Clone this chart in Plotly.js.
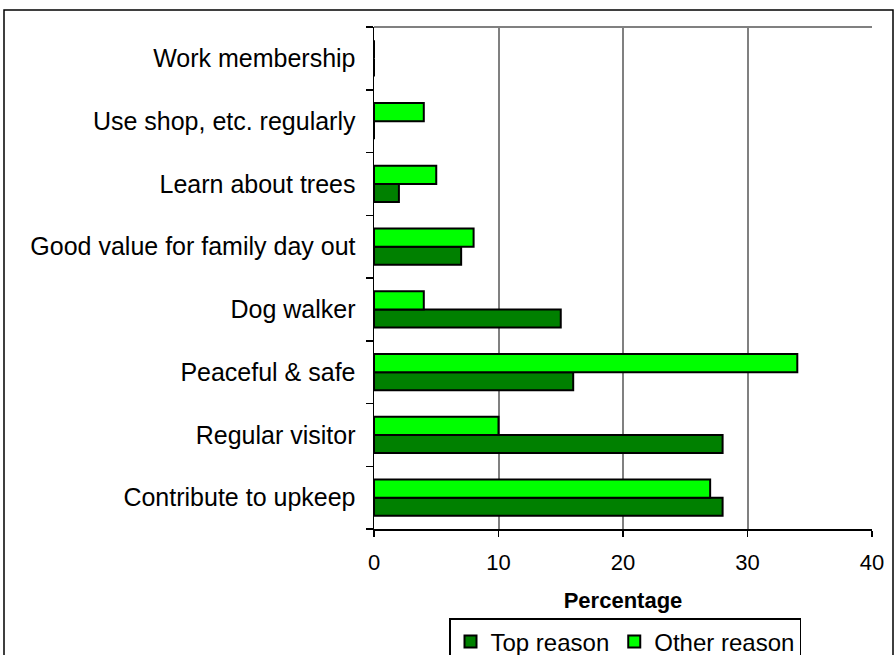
<!DOCTYPE html>
<html>
<head>
<meta charset="utf-8">
<script src="https://cdn.plot.ly/plotly-3.0.1.min.js"></script>
<style>
html,body{margin:0;padding:0;background:#fff;overflow:hidden;width:895px;height:655px;}
#chart{width:895px;height:680px;}
</style>
</head>
<body>
<div id="chart"></div>
<script>
const categories = ["Contribute to upkeep", "Regular visitor", "Peaceful & safe", "Dog walker",
  "Good value for family day out", "Learn about trees", "Use shop, etc. regularly", "Work membership"];
const topReason = [28, 28, 16, 15, 7, 2, 0, 0];
const otherReason = [27, 10, 34, 4, 8, 5, 4, 0];
const seriesNames = ["Top reason", "Other reason"];
const xTicks = [0, 10, 20, 30, 40];

const FONT = "Liberation Sans, Arial, sans-serif";

const traces = [
  {type: "bar", orientation: "h", name: seriesNames[0], y: categories, x: topReason,
   marker: {color: "#008000", line: {color: "#000", width: 2}}},
  {type: "bar", orientation: "h", name: seriesNames[1], y: categories, x: otherReason,
   marker: {color: "#00ff00", line: {color: "#000", width: 2}}}
];

const FULLH = 680;
const L = 374, R = 23, T = 27, B = FULLH - 529;
const W = 895 - L - R, H = FULLH - T - B;
const px = v => (v - L) / W;
const py = v => (FULLH - B - v) / H;

const layout = {
  width: 895, height: FULLH,
  margin: {l: L, r: R, t: T, b: B},
  paper_bgcolor: "#fff", plot_bgcolor: "#fff",
  font: {family: FONT, size: 22, color: "#000"},
  barmode: "group", bargap: 0.42, bargroupgap: 0,
  showlegend: true,
  legend: {orientation: "h", x: px(449), y: py(618), xanchor: "left", yanchor: "top",
    bordercolor: "#000", borderwidth: 1.5, bgcolor: "#fff",
    font: {family: FONT, size: 24, color: "#000"}, traceorder: "normal"},
  xaxis: {range: [0, 40], tickvals: xTicks, ticktext: xTicks.map(String), automargin: false,
    showgrid: true, gridcolor: "#808080", gridwidth: 2,
    showline: true, linecolor: "#000", linewidth: 1.5,
    ticks: "outside", ticklen: 6, tickcolor: "#000", tickwidth: 1.5,
    ticklabelstandoff: 7,
    zeroline: false, fixedrange: true,
    tickfont: {family: FONT, size: 22, color: "#000"},
    title: {text: "<b>Percentage</b>", font: {family: FONT, size: 22, color: "#000"}, standoff: 18}},
  yaxis: {type: "category", automargin: false, showgrid: false,
    showline: true, linecolor: "#000", linewidth: 1.5,
    ticks: "outside", tickson: "boundaries", ticklen: 7, tickcolor: "#000", tickwidth: 1.5,
    ticklabelstandoff: 12,
    zeroline: false, fixedrange: true,
    tickfont: {family: FONT, size: 25, color: "#000"}},
  shapes: [
    {type: "line", xref: "paper", yref: "paper", x0: 0, x1: 1, y0: 1, y1: 1,
     line: {color: "#808080", width: 2}},
    {type: "rect", xref: "paper", yref: "paper", x0: px(4), x1: px(893), y0: py(10), y1: py(720),
     line: {color: "#000", width: 1.5}, fillcolor: "rgba(0,0,0,0)", layer: "below"}
  ]
};

Plotly.newPlot("chart", traces, layout, {displayModeBar: false, staticPlot: true});
</script>
</body>
</html>
